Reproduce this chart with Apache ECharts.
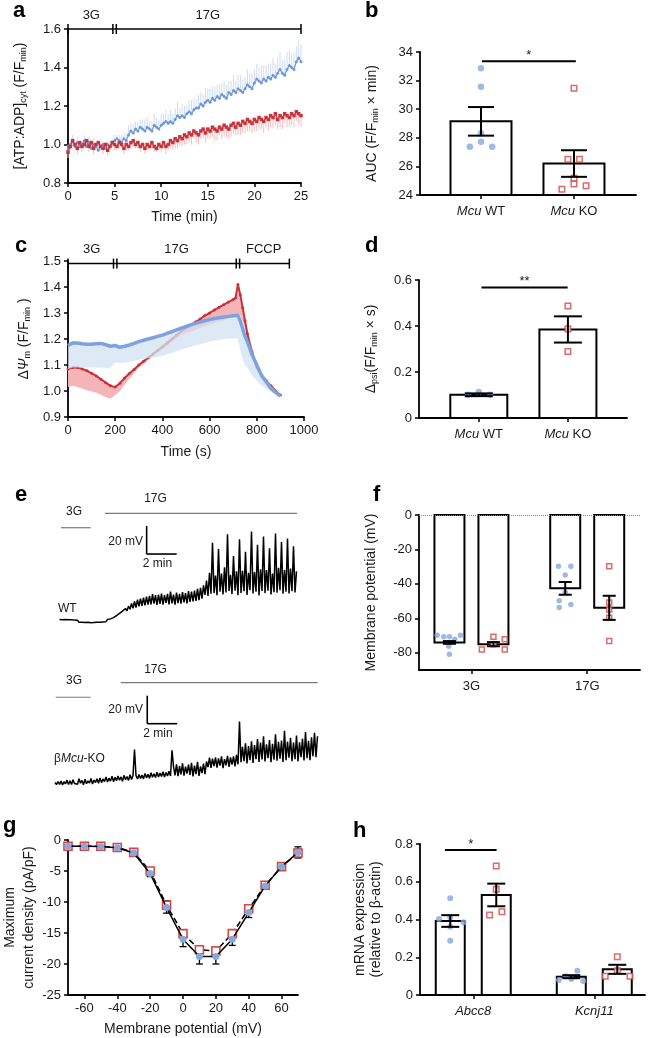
<!DOCTYPE html>
<html><head><meta charset="utf-8">
<script src="https://cdn.jsdelivr.net/npm/echarts@6/dist/echarts.min.js"></script>
<style>html,body{margin:0;padding:0;background:#fff}#c{width:649px;height:1038px}</style>
</head><body><div id="c"></div>
<script>
// ================= DATA =================
// ---- panel a : [ATP:ADP]cyt time course, sampled every 0.25 min ----
const aStart = 0, aStep = 0.25;
const aWT = [0.97,1.00,1.02,0.99,1.01,0.99,1.00,1.02,0.99,1.01,
 0.98,1.00,0.99,0.97,0.99,1.00,0.98,1.00,0.99,1.01,
 1.02,1.03,1.02,1.01,1.03,1.02,1.05,1.07,1.06,1.08,
 1.07,1.09,1.08,1.07,1.09,1.08,1.07,1.10,1.09,1.08,
 1.10,1.11,1.12,1.11,1.12,1.11,1.13,1.15,1.14,1.15,
 1.14,1.16,1.17,1.16,1.18,1.19,1.19,1.21,1.20,1.22,
 1.23,1.22,1.24,1.23,1.25,1.24,1.26,1.25,1.24,1.27,
 1.26,1.28,1.27,1.29,1.28,1.27,1.29,1.31,1.30,1.29,
 1.32,1.34,1.33,1.32,1.34,1.33,1.35,1.34,1.36,1.35,
 1.37,1.39,1.37,1.36,1.39,1.41,1.40,1.39,1.43,1.45,1.43];
const aWTsem = [.03,.02,.03,.02,.03,.02,.02,.03,.02,.03,
 .02,.03,.02,.03,.02,.02,.03,.02,.03,.02,
 .03,.02,.03,.04,.03,.04,.05,.04,.05,.04,
 .05,.04,.05,.06,.05,.04,.05,.06,.05,.05,
 .06,.05,.06,.05,.06,.05,.06,.07,.05,.06,
 .06,.05,.06,.07,.06,.05,.07,.06,.06,.07,
 .06,.07,.06,.07,.06,.07,.06,.08,.07,.06,
 .07,.08,.06,.07,.08,.07,.06,.08,.07,.08,
 .07,.08,.07,.09,.07,.08,.07,.08,.09,.07,
 .08,.09,.07,.08,.09,.08,.07,.09,.08,.09,.09];
const aKO = [0.96,0.99,1.02,1.00,0.98,1.01,0.99,1.00,1.02,0.99,
 1.01,0.98,1.00,1.01,0.99,0.98,1.00,0.97,0.99,1.01,
 1.00,0.99,1.01,1.00,0.98,1.00,0.99,1.01,1.02,1.00,
 1.01,0.99,1.00,0.98,1.00,0.99,1.01,0.99,0.98,1.00,
 0.99,1.01,0.99,1.00,1.02,1.01,1.03,1.02,1.04,1.03,
 1.05,1.04,1.06,1.05,1.07,1.06,1.05,1.07,1.08,1.06,
 1.08,1.07,1.09,1.08,1.07,1.09,1.08,1.10,1.09,1.08,
 1.10,1.11,1.09,1.11,1.10,1.12,1.11,1.13,1.12,1.11,
 1.13,1.12,1.14,1.13,1.12,1.14,1.13,1.15,1.14,1.16,
 1.13,1.15,1.14,1.16,1.15,1.14,1.16,1.15,1.17,1.16,1.15];
const aKOsem = [.03,.02,.03,.02,.03,.02,.03,.02,.02,.03,
 .02,.03,.02,.03,.02,.03,.02,.03,.02,.02,
 .03,.02,.03,.02,.03,.03,.02,.03,.03,.02,
 .03,.03,.02,.03,.03,.02,.03,.03,.02,.03,
 .03,.03,.04,.03,.04,.04,.05,.04,.05,.04,
 .05,.04,.05,.05,.04,.05,.05,.04,.05,.05,
 .05,.04,.05,.06,.05,.04,.05,.06,.05,.05,
 .06,.05,.04,.06,.05,.06,.05,.06,.05,.05,
 .06,.05,.06,.05,.06,.05,.06,.06,.05,.06,
 .05,.06,.06,.05,.06,.05,.06,.06,.05,.06,.06];
const aStimStart = [0, 5], aStimEnd = [5, 25], aStimLabel = ['3G', '17G'];

// ---- panel b : AUC ----
const bCats = ['Mcu WT', 'Mcu KO'];
const bMean = [29.15, 26.2];
const bSem = [1.0, 0.93];
const bWT = [32.86, 31.57, 28.31, 27.73, 27.38, 27.38];
const bWTjit = [0, 0, 0, 0, -0.12, 0.12];
const bKO = [31.46, 26.5, 26.5, 25.17, 24.77, 24.65, 24.4];
const bKOjit = [0, -0.065, 0.06, 0, 0, 0.13, -0.13];
const bSig = [0.01, 1.02, 33.35];

// ---- panel c : delta psi_m ----
const cTime = [0,20,40,60,80,100,120,140,160,180,200,220,240,260,280,300,320,340,360,380,400,420,440,460,480,500,520,540,560,580,600,620,640,660,680,700,710,720,730,740,750,760,780,800,820,840,860,880,900];
const cKO = [1.085,1.09,1.09,1.085,1.078,1.068,1.058,1.045,1.032,1.02,1.015,1.03,1.05,1.067,1.083,1.10,1.114,1.128,1.142,1.156,1.17,1.185,1.20,1.215,1.23,1.243,1.254,1.265,1.277,1.29,1.30,1.312,1.322,1.332,1.342,1.352,1.358,1.41,1.37,1.32,1.27,1.22,1.15,1.09,1.06,1.04,1.02,1.0,0.985];
const cKOsem = [.07,.07,.075,.075,.075,.07,.065,.06,.055,.05,.03,.03,.025,.02,.015,.01,.01,.008,.008,.008,.008,.01,.01,.012,.015,.02,.025,.03,.035,.04,.045,.05,.055,.06,.065,.07,.07,.12,.08,.05,.03,.02,.015,.01,.01,.01,.008,.006,.005];
const cWT = [1.175,1.185,1.185,1.182,1.18,1.18,1.182,1.183,1.178,1.172,1.175,1.168,1.172,1.177,1.183,1.19,1.195,1.20,1.205,1.21,1.215,1.222,1.228,1.235,1.242,1.248,1.254,1.26,1.265,1.27,1.275,1.279,1.282,1.285,1.287,1.289,1.29,1.29,1.27,1.24,1.21,1.19,1.14,1.10,1.06,1.035,1.01,0.995,0.98];
const cWTsem = [.09,.095,.095,.092,.09,.09,.092,.093,.09,.085,.065,.06,.062,.065,.068,.07,.072,.074,.076,.078,.08,.08,.082,.082,.083,.083,.084,.084,.085,.085,.085,.085,.086,.086,.086,.087,.087,.09,.11,.12,.11,.10,.08,.06,.04,.025,.015,.008,.005];
const cStimStart = [0, 200, 720], cStimEnd = [200, 720, 938], cStimLabel = ['3G', '17G', 'FCCP'];

// ---- panel d ----
const dCats = ['Mcu WT', 'Mcu KO'];
const dMean = [0.101, 0.385];
const dSem = [0.006, 0.057];
const dWT = [0.101, 0.113, 0.101];
const dWTjit = [-0.12, 0, 0.127];
const dKO = [0.487, 0.387, 0.289];
const dKOjit = [0, 0, 0];
const dSig = [0.03, 0.997, 0.567];

// ---- panel e : membrane potential traces (mV), sampled every 0.1 min ----
const eStep = 0.1;
const eWTstart = 0.3;
const eWT = [-75.3,-76.7,-75.5,-76.9,-75.4,-76.8,-75.6,-77.0,-75.5,-76.9,
 -75.8,-77.2,-75.9,-77.4,-76.0,-77.3,-76.1,-77.5,-76.2,-77.4,
 -76.3,-77.6,-76.2,-77.5,-76.1,-77.4,-76.2,-77.3,-76.0,-77.1,
 -75.8,-76.9,-75.4,-76.5,-74.9,-75.8,-74.0,-74.9,-72.6,-73.8,
 -71.0,-72.2,-69.4,-70.8,-67.5,-69.2,-65.8,-68.0,-63.9,-67.4,
 -62.5,-66.8,-61.2,-66.0,-60.5,-65.6,-59.8,-65.2,-59.0,-64.8,
 -58.5,-64.5,-57.2,-64.0,-58.0,-65.0,-57.5,-64.2,-56.8,-64.8,
 -57.9,-63.5,-57.0,-64.5,-55.5,-63.9,-57.6,-64.8,-56.2,-63.6,
 -57.0,-64.0,-55.8,-63.2,-56.5,-63.8,-55.0,-62.8,-55.5,-62.5,
 -54.8,-62.0,-53.5,-61.5,-52.8,-60.5,-51.0,-57.8,-47.5,-58.5,
 -42.0,-57.0,-20.5,-56.5,-44.0,-58.0,-25.0,-55.5,-42.5,-57.5,
 -38.0,-56.0,-14.5,-55.0,-43.5,-57.2,-30.0,-54.8,-41.0,-58.0,
 -18.0,-56.5,-40.5,-55.2,-27.0,-57.8,-42.0,-54.5,-12.5,-56.8,
 -41.5,-55.5,-22.0,-58.2,-39.5,-55.0,-16.0,-56.5,-40.0,-54.8,
 -24.5,-57.5,-42.5,-55.8,-14.0,-56.2,-38.5,-54.5,-20.0,-57.0,
 -40.0,-55.5,-17.5,-56.8,-39.0,-55.2,-23.0,-56.0,-41.0];
const eKOstart = 0;
const eKO = [-77.5,-79.0,-76.8,-78.8,-76.5,-79.2,-77.0,-78.5,-75.8,-78.9,
 -76.2,-79.0,-75.5,-78.2,-76.8,-78.7,-74.8,-78.0,-76.0,-79.1,
 -75.2,-78.4,-76.4,-77.9,-74.6,-78.6,-75.8,-77.5,-74.9,-78.1,
 -74.2,-77.6,-75.0,-76.8,-73.5,-77.2,-74.4,-76.5,-73.0,-76.9,
 -73.8,-76.2,-72.8,-75.9,-73.5,-76.6,-72.4,-75.5,-73.2,-76.0,
 -72.0,-75.3,-72.6,-54.0,-72.5,-75.0,-71.8,-74.6,-72.2,-74.9,
 -71.0,-74.2,-71.6,-74.5,-70.5,-73.8,-71.2,-74.0,-70.2,-73.5,
 -70.8,-73.2,-69.8,-73.6,-70.4,-72.8,-69.5,-72.9,-54.5,-66.0,
 -72.5,-64.5,-73.0,-65.8,-71.8,-63.9,-72.6,-66.2,-71.2,-64.8,
 -72.0,-63.5,-73.2,-65.5,-71.5,-62.8,-72.8,-66.0,-70.8,-64.0,
 -71.5,-62.5,-66.5,-59.8,-67.0,-60.5,-65.8,-59.5,-66.8,-60.2,
 -65.5,-58.8,-67.2,-60.8,-65.2,-58.5,-66.4,-59.6,-64.8,-58.9,
 -66.0,-57.8,-64.5,-34.0,-63.0,-52.0,-62.2,-49.5,-63.8,-51.5,
 -61.5,-48.0,-63.5,-50.8,-60.8,-46.5,-62.8,-49.0,-61.0,-44.5,
 -62.5,-50.2,-60.2,-47.2,-63.0,-49.8,-61.2,-43.0,-62.0,-48.5,
 -60.5,-47.5,-62.8,-40.5,-61.5,-48.2,-59.8,-45.5,-62.2,-49.0,
 -60.8,-44.0,-62.5,-48.8,-59.5,-46.2,-61.8,-41.5,-60.2,-47.8,
 -61.5,-45.2,-58.8,-42.0,-59.5,-44.5];
// stimulus lines [start min, end min, level mV] and scale bars [x min, y mV, 2 min, 20 mV]
const eWTStim = [[0.4, 2.38, -9.8], [3.33, 16.13, 0.5]];
const eKOStim = [[0.05, 2.38, -16.6], [4.38, 17.51, -6.2]];
const eWTScale = [[6.11, -28.6, 2, 20]];
const eKOScale = [[6.15, -35.5, 2, 20]];

// ---- panel f ----
const fCats = ['3G', '17G'];
const fMeanWT = [-74.0, -42.6], fSemWT = [0.8, 3.7];
const fMeanKO = [-75.0, -53.9], fSemKO = [1.2, 7.0];
const fWT3 = [-69.8,-70.7,-70.7,-72.1,-69.8,-76.2,-80.8], fWT3jit = [-0.106,-0.049,0,0.046,0.095,-0.006,0];
const fKO3 = [-78.1,-70.7,-75.0,-72.1,-78.1], fKO3jit = [-0.1,0,0,0.098,0.098];
const fWT17 = [-29.7,-29.7,-34.9,-44.9,-49.8,-51.9,-53.7], fWT17jit = [-0.058,0.049,0,0,-0.052,0.049,-0.052];
const fKO17 = [-29.7,-50.8,-54.8,-59.7,-73.1], fKO17jit = [0,0,0,0,0];

// ---- panel g : I-V ----
const gV = [-70,-60,-50,-40,-30,-20,-10,0,10,20,30,40,50,60,70];
const gWT = [-1.0,-1.0,-1.05,-1.25,-2.1,-5.4,-10.9,-16.0,-18.8,-18.8,-16.0,-11.7,-7.4,-4.3,-2.0];
const gWTsem = [0.1,0.1,0.1,0.15,0.3,0.5,0.9,1.2,1.2,1.2,1.0,0.8,0.5,0.3,0.9];
const gKO = [-1.0,-1.0,-1.0,-1.2,-2.0,-5.0,-10.5,-15.1,-17.7,-17.9,-15.1,-11.1,-7.3,-4.3,-2.1];
const gKOsem = [0.1,0.1,0.1,0.15,0.3,0.4,0.7,0.6,0.5,0.6,0.6,0.5,0.4,0.3,0.6];
const gXTicks = [-60,-40,-20,0,20,40,60];

// ---- panel h ----
const hCats = ['Abcc8', 'Kcnj11'];
const hMeanWT = [0.392, 0.097], hSemWT = [0.031, 0.008];
const hMeanKO = [0.53, 0.136], hSemKO = [0.06, 0.024];
const hWT1 = [0.512,0.403,0.41,0.385,0.362,0.288], hWT1jit = [0,-0.093,0,0.109,0,0];
const hKO1 = [0.683,0.56,0.424,0.441], hKO1jit = [0,0,-0.055,0.047];
const hWT2 = [0.079,0.1,0.085,0.129,0.074], hWT2jit = [-0.102,-0.046,0,0.05,0.099];
const hKO2 = [0.203,0.129,0.1,0.1], hKO2jit = [0,0,-0.1,0.105];
const hSig = [-0.234, 0.193, 0.768];

// ================= STYLE / HELPERS =================
const FONT = '"Liberation Sans", Arial, Helvetica, sans-serif';
const TXT = '#1a1a1a';
const BLUE = '#84A9E0', RED = '#D64545';
const GROUP_OFF = 0.19;

function merge(a, b) {
  const o = Object.assign({}, a);
  for (const k in b) {
    const bv = b[k];
    if (bv && typeof bv === 'object' && !Array.isArray(bv) && typeof bv !== 'function' && a[k] && typeof a[k] === 'object' && !Array.isArray(a[k])) o[k] = merge(a[k], bv);
    else o[k] = bv;
  }
  return o;
}
const SUB = {fontSize: 9, lineHeight: 6, verticalAlign: 'bottom', fontFamily: FONT, color: TXT};
const ITAL = {fontStyle: 'italic', fontFamily: FONT, color: TXT, fontSize: 13};
function vAxis(o) {
  return merge({
    type: 'value', splitLine: {show: false},
    axisLine: {show: true, onZero: false, lineStyle: {color: '#000', width: 1.8}},
    axisTick: {show: true, length: 4, lineStyle: {color: '#000', width: 1.5}},
    axisLabel: {color: TXT, fontSize: 13, fontFamily: FONT, margin: 7, formatter: v => String(v)},
    nameLocation: 'middle',
    nameTextStyle: {color: TXT, fontSize: 14, fontFamily: FONT, lineHeight: 16, rich: {s: SUB, i: {fontStyle: 'italic', fontSize: 14, fontFamily: FONT, color: TXT}}}
  }, o);
}
function catAxis(idx, min, max, cats, italicAll) {
  return vAxis({gridIndex: idx, min, max,
    axisTick: {customValues: [0, 1]},
    axisLabel: {customValues: [0, 1], margin: 10, fontStyle: italicAll ? 'italic' : 'normal',
      formatter: v => { const s = cats[Math.round(v)]; return italicAll ? s : s.replace('Mcu', '{i|Mcu}'); },
      rich: {i: ITAL}}});
}
function hideAxis(idx, min, max) { return {type: 'value', gridIndex: idx, min, max, show: false}; }

// --- custom renderers ---
function vsegRender(color, lw) { // [x, y1, y2]
  return (p, api) => {
    const a = api.coord([api.value(0), api.value(1)]), b = api.coord([api.value(0), api.value(2)]);
    return {type: 'line', shape: {x1: a[0], y1: a[1], x2: b[0], y2: b[1]}, style: {stroke: color, lineWidth: lw}};
  };
}
function hsegRender(color, lw) { // [x1, x2, y]
  return (p, api) => {
    const a = api.coord([api.value(0), api.value(2)]), b = api.coord([api.value(1), api.value(2)]);
    return {type: 'line', shape: {x1: a[0], y1: a[1], x2: b[0], y2: b[1]}, style: {stroke: color, lineWidth: lw}};
  };
}
function errRender(capW, lw) { // [x, mean, sem]
  return (p, api) => {
    const x = api.value(0), m = api.value(1), s = api.value(2);
    const hi = api.coord([x, m + s]), lo = api.coord([x, m - s]);
    const st = {stroke: '#000', lineWidth: lw};
    return {type: 'group', children: [
      {type: 'line', shape: {x1: hi[0], y1: hi[1], x2: lo[0], y2: lo[1]}, style: st},
      {type: 'line', shape: {x1: hi[0] - capW / 2, y1: hi[1], x2: hi[0] + capW / 2, y2: hi[1]}, style: st},
      {type: 'line', shape: {x1: lo[0] - capW / 2, y1: lo[1], x2: lo[0] + capW / 2, y2: lo[1]}, style: st}]};
  };
}
function barRender(w, base) { // [x, value]
  return (p, api) => {
    const x = api.value(0), v = api.value(1);
    const t = api.coord([x, v]), b = api.coord([x, base]);
    return {type: 'rect', shape: {x: t[0] - w / 2, y: Math.min(t[1], b[1]), width: w, height: Math.abs(b[1] - t[1])},
      style: {fill: '#fff', stroke: '#000', lineWidth: 2}};
  };
}
function txt(x, y, text, size, align, vAlign, extra) {
  return Object.assign({x, y, text, fill: TXT, fontSize: size, fontFamily: FONT, align, textAlign: align, verticalAlign: vAlign, textVerticalAlign: vAlign}, extra || {});
}
function sigRender(label) { // [x1, x2, y]
  return (p, api) => {
    const a = api.coord([api.value(0), api.value(2)]), b = api.coord([api.value(1), api.value(2)]);
    return {type: 'group', children: [
      {type: 'line', shape: {x1: a[0], y1: a[1], x2: b[0], y2: b[1]}, style: {stroke: '#000', lineWidth: 2}},
      {type: 'text', style: txt((a[0] + b[0]) / 2, a[1] - 6, label, 13, 'center', 'middle')}]};
  };
}
function stimRender(labels, n) { // [start, end, y]
  return (p, api) => {
    const i = p.dataIndex;
    const a = api.coord([api.value(0), api.value(2)]), b = api.coord([api.value(1), api.value(2)]);
    const st = {stroke: '#000', lineWidth: 1.5};
    const xa = a[0] + (i > 0 ? 1.7 : 0), xb = b[0] - (i < n - 1 ? 1.7 : 0);
    return {type: 'group', children: [
      {type: 'line', shape: {x1: a[0], y1: a[1], x2: b[0], y2: b[1]}, style: st},
      {type: 'line', shape: {x1: xa, y1: a[1] - 5, x2: xa, y2: a[1] + 5}, style: st},
      {type: 'line', shape: {x1: xb, y1: b[1] - 5, x2: xb, y2: b[1] + 5}, style: st},
      {type: 'text', style: txt((a[0] + b[0]) / 2, a[1] - 14, labels[i], 13, 'center', 'middle')}]};
  };
}
function bandRender(xs, top, bot, color, opacity) {
  return (p, api) => {
    const pts = [];
    for (let i = 0; i < xs.length; i++) pts.push(api.coord([xs[i], top[i]]));
    for (let i = xs.length - 1; i >= 0; i--) pts.push(api.coord([xs[i], bot[i]]));
    return {type: 'polygon', shape: {points: pts}, style: {fill: color, opacity}};
  };
}
function scaleRender() { // [x0, y0, dx, dy]
  return (p, api) => {
    const x0 = api.value(0), y0 = api.value(1), dx = api.value(2), dy = api.value(3);
    const c = api.coord([x0, y0]), t = api.coord([x0, y0 + dy]), r = api.coord([x0 + dx, y0]);
    const st = {stroke: '#000', lineWidth: 1.6};
    return {type: 'group', children: [
      {type: 'line', shape: {x1: c[0], y1: c[1], x2: t[0], y2: t[1]}, style: st},
      {type: 'line', shape: {x1: c[0], y1: c[1], x2: r[0], y2: r[1]}, style: st}]};
  };
}
function cust(gi, render, data, z, extra) {
  return Object.assign({type: 'custom', xAxisIndex: gi, yAxisIndex: gi, renderItem: render, data, clip: false, silent: true, z: z || 2}, extra || {});
}
function dots(gi, pts, isKO, size) {
  return {type: 'scatter', xAxisIndex: gi, yAxisIndex: gi, data: pts, silent: true, z: 3,
    symbol: isKO ? 'rect' : 'circle', symbolSize: isKO ? size - 1 : size,
    itemStyle: isKO ? {color: '#fff', borderColor: RED, borderWidth: 1.5} : {color: BLUE}};
}
const jitter = (center, vals, jit) => vals.map((v, i) => [center + jit[i], v]);

// ================= DERIVED SERIES DATA =================
const aT = aWT.map((v, i) => aStart + i * aStep);
const eWTt = eWT.map((v, i) => [eWTstart + i * eStep, v]);
const eKOt = eKO.map((v, i) => [eKOstart + i * eStep, v]);
const cKOlow = cKO.map((v, i) => v - cKOsem[i]);
const cWTlow = cWT.map((v, i) => v - cWTsem[i]);

const series = [
  // ---- a ----
  cust(0, vsegRender('#F6BCC0', 1), aT.map((t, i) => [t, aKO[i], aKO[i] - aKOsem[i]]), 1),
  cust(0, vsegRender('#CFDDF1', 1), aT.map((t, i) => [t, aWT[i], aWT[i] + aWTsem[i]]), 1),
  {type: 'line', xAxisIndex: 0, yAxisIndex: 0, data: aT.map((t, i) => [t, aWT[i]]), symbol: 'circle', symbolSize: 3,
    itemStyle: {color: '#6F97D6'}, lineStyle: {color: '#6F97D6', width: 1.2}, silent: true, z: 2},
  {type: 'line', xAxisIndex: 0, yAxisIndex: 0, data: aT.map((t, i) => [t, aKO[i]]), symbol: 'rect', symbolSize: 3.5,
    itemStyle: {color: '#C9343C'}, lineStyle: {color: '#C9343C', width: 1.2}, silent: true, z: 2},
  cust(0, stimRender(aStimLabel, aStimStart.length), aStimStart.map((s, i) => [s, aStimEnd[i], 1.6]), 4),

  // ---- b ----
  cust(1, barRender(61, 24), bMean.map((m, i) => [i, m]), 1),
  dots(1, jitter(0, bWT, bWTjit), false, 6.5),
  dots(1, jitter(1, bKO, bKOjit), true, 6.5),
  cust(1, errRender(26, 2), bMean.map((m, i) => [i, m, bSem[i]]), 4),
  cust(1, sigRender('*'), [bSig], 4),

  // ---- c ----
  cust(2, bandRender(cTime, cKO, cKOlow, '#F5B4B8', 1), [[0, 1.0]], 1),
  {type: 'line', xAxisIndex: 2, yAxisIndex: 2, data: cTime.map((t, i) => [t, cKO[i]]), symbol: 'circle', symbolSize: 3,
    itemStyle: {color: '#C8323A'}, lineStyle: {color: '#C8323A', width: 2}, silent: true, z: 2},
  cust(2, bandRender(cTime, cWT, cWTlow, '#D3E2F3', 0.75), [[0, 1.0]], 3),
  {type: 'line', xAxisIndex: 2, yAxisIndex: 2, data: cTime.map((t, i) => [t, cWT[i]]), showSymbol: false, symbol: 'none',
    lineStyle: {color: '#7DA3DF', width: 3.5}, silent: true, z: 4},
  cust(2, stimRender(cStimLabel, cStimStart.length), cStimStart.map((s, i) => [s, cStimEnd[i], 1.49]), 5),

  // ---- d ----
  cust(3, barRender(57, 0), dMean.map((m, i) => [i, m]), 1),
  dots(3, jitter(0, dWT, dWTjit), false, 6.5),
  dots(3, jitter(1, dKO, dKOjit), true, 6.5),
  cust(3, errRender(28, 2), dMean.map((m, i) => [i, m, dSem[i]]), 4),
  cust(3, sigRender('**'), [dSig], 4),

  // ---- e ----
  {type: 'line', xAxisIndex: 4, yAxisIndex: 4, data: eWTt, symbol: 'none', showSymbol: false, lineStyle: {color: '#000', width: 1.5}, silent: true},
  {type: 'line', xAxisIndex: 5, yAxisIndex: 5, data: eKOt, symbol: 'none', showSymbol: false, lineStyle: {color: '#000', width: 1.5}, silent: true},
  cust(4, hsegRender('#7a7a7a', 1.2), eWTStim, 2),
  cust(5, hsegRender('#7a7a7a', 1.2), eKOStim, 2),
  cust(4, scaleRender(), eWTScale, 2),
  cust(5, scaleRender(), eKOScale, 2),

  // ---- f ----
  cust(6, barRender(30, 0), [[-GROUP_OFF, fMeanWT[0]], [GROUP_OFF, fMeanKO[0]], [1 - GROUP_OFF, fMeanWT[1]], [1 + GROUP_OFF, fMeanKO[1]]], 1),
  Object.assign(dots(6, jitter(-GROUP_OFF, fWT3, fWT3jit).concat(jitter(1 - GROUP_OFF, fWT17, fWT17jit)), false, 5.5), {
    markLine: {silent: true, symbol: ['none', 'none'], label: {show: false}, animation: false,
      lineStyle: {type: 'dotted', color: '#888', width: 1}, data: [{yAxis: 0}]}}),
  dots(6, jitter(GROUP_OFF, fKO3, fKO3jit).concat(jitter(1 + GROUP_OFF, fKO17, fKO17jit)), true, 6),
  cust(6, errRender(13, 2), [[-GROUP_OFF, fMeanWT[0], fSemWT[0]], [GROUP_OFF, fMeanKO[0], fSemKO[0]], [1 - GROUP_OFF, fMeanWT[1], fSemWT[1]], [1 + GROUP_OFF, fMeanKO[1], fSemKO[1]]], 4),

  // ---- g ----
  cust(7, errRender(7, 1.3), gV.map((v, i) => [v, gKO[i], gKOsem[i]]), 1),
  cust(7, errRender(7, 1.3), gV.map((v, i) => [v, gWT[i], gWTsem[i]]), 1),
  {type: 'line', xAxisIndex: 7, yAxisIndex: 7, data: gV.map((v, i) => [v, gKO[i]]), symbol: 'rect', symbolSize: 8,
    itemStyle: {color: '#fff', borderColor: RED, borderWidth: 1.6}, lineStyle: {color: '#000', width: 1.5, type: 'dashed'}, silent: true, z: 2},
  {type: 'line', xAxisIndex: 7, yAxisIndex: 7, data: gV.map((v, i) => [v, gWT[i]]), symbol: 'circle', symbolSize: 7,
    itemStyle: {color: BLUE}, lineStyle: {color: '#000', width: 1.5}, silent: true, z: 3},

  // ---- h ----
  cust(8, barRender(29, 0), [[-GROUP_OFF, hMeanWT[0]], [GROUP_OFF, hMeanKO[0]], [1 - GROUP_OFF, hMeanWT[1]], [1 + GROUP_OFF, hMeanKO[1]]], 1),
  dots(8, jitter(-GROUP_OFF, hWT1, hWT1jit).concat(jitter(1 - GROUP_OFF, hWT2, hWT2jit)), false, 6),
  dots(8, jitter(GROUP_OFF, hKO1, hKO1jit).concat(jitter(1 + GROUP_OFF, hKO2, hKO2jit)), true, 6.5),
  cust(8, errRender(18, 2), [[-GROUP_OFF, hMeanWT[0], hSemWT[0]], [GROUP_OFF, hMeanKO[0], hSemKO[0]], [1 - GROUP_OFF, hMeanWT[1], hSemWT[1]], [1 + GROUP_OFF, hMeanKO[1], hSemKO[1]]], 4),
  cust(8, sigRender('*'), [hSig], 4)
];

// ================= TEXT (panel letters, trace annotations) =================
function gText(x, y, text, size, align, extra) {
  return {type: 'text', x, y, silent: true, style: Object.assign({text, fill: TXT, fontSize: size, fontFamily: FONT, textAlign: align, align, textVerticalAlign: 'middle', verticalAlign: 'middle'}, extra || {})};
}
const B = {fontWeight: 'bold', fill: '#000'};
const graphics = [
  gText(13, 11, 'a', 22, 'left', B), gText(365, 11, 'b', 22, 'left', B),
  gText(15, 246, 'c', 22, 'left', B), gText(365, 246, 'd', 22, 'left', B),
  gText(15, 495, 'e', 22, 'left', B), gText(373, 495, 'f', 22, 'left', B),
  gText(3, 826, 'g', 22, 'left', B), gText(353, 831, 'h', 22, 'left', B),
  gText(74, 512, '3G', 12, 'center'), gText(155.5, 499, '17G', 12, 'center'),
  gText(143, 541.5, '20 mV', 12, 'right'), gText(157.5, 563.5, '2 min', 12, 'center'),
  gText(58, 609, 'WT', 12, 'left'),
  gText(74, 681, '3G', 12, 'center'), gText(155.5, 670, '17G', 12, 'center'),
  gText(143, 709.5, '20 mV', 12, 'right'), gText(158, 733.5, '2 min', 12, 'center'),
  gText(54, 759, 'β{i|Mcu}-KO', 12, 'left', {rich: {i: {fontStyle: 'italic', fontSize: 12, fontFamily: FONT, fill: TXT}}})
];

const gridBase = {containLabel: false, outerBoundsMode: 'none'};
const option = {
  animation: false,
  backgroundColor: '#fff',
  grid: [
    Object.assign({left: 68, top: 29, width: 233, height: 154}, gridBase),
    Object.assign({left: 420, top: 52, width: 216, height: 143}, gridBase),
    Object.assign({left: 68, top: 261, width: 236, height: 156}, gridBase),
    Object.assign({left: 419, top: 280, width: 208, height: 138}, gridBase),
    Object.assign({left: 55, top: 500, width: 270, height: 140}, gridBase),
    Object.assign({left: 55, top: 660, width: 270, height: 140}, gridBase),
    Object.assign({left: 419, top: 515, width: 221, height: 155}, gridBase),
    Object.assign({left: 68, top: 840, width: 230, height: 155}, gridBase),
    Object.assign({left: 420, top: 844, width: 225, height: 151}, gridBase)
  ],
  xAxis: [
    vAxis({gridIndex: 0, min: 0, max: 25, interval: 5, name: 'Time (min)', nameGap: 26}),
    catAxis(1, -0.656, 1.667, bCats, false),
    vAxis({gridIndex: 2, min: 0, max: 1000, interval: 200, name: 'Time (s)', nameGap: 27}),
    catAxis(3, -0.671, 1.663, dCats, false),
    hideAxis(4, 0, 18),
    hideAxis(5, 0, 18),
    catAxis(6, -0.453, 1.456, fCats, false),
    vAxis({gridIndex: 7, min: -70, max: 70, axisTick: {customValues: gXTicks}, axisLabel: {customValues: gXTicks},
      name: 'Membrane potential (mV)', nameGap: 26}),
    catAxis(8, -0.44, 1.419, hCats, true)
  ],
  yAxis: [
    vAxis({gridIndex: 0, min: 0.8, max: 1.6, interval: 0.2, axisLabel: {formatter: v => v.toFixed(1)},
      name: '[ATP:ADP]{s|cyt} (F/F{s|min})', nameGap: 40}),
    vAxis({gridIndex: 1, min: 24, max: 34, interval: 2, name: 'AUC (F/F{s|min} × min)', nameGap: 40}),
    vAxis({gridIndex: 2, min: 0.9, max: 1.5, interval: 0.1, axisLabel: {formatter: v => v.toFixed(1)},
      name: 'Δ{i|Ψ}{s|m} (F/F{s|min} )', nameGap: 36}),
    vAxis({gridIndex: 3, min: 0, max: 0.6, interval: 0.2, name: 'Δ{s|psi}(F/F{s|min} × s)', nameGap: 40}),
    hideAxis(4, -90, 10),
    hideAxis(5, -90, 10),
    vAxis({gridIndex: 6, min: -90, max: 0, axisTick: {customValues: [0, -20, -40, -60, -80]},
      axisLabel: {customValues: [0, -20, -40, -60, -80]}, name: 'Membrane potential (mV)', nameGap: 40}),
    vAxis({gridIndex: 7, min: -25, max: 0, interval: 5, name: 'Maximum\ncurrent density (pA/pF)', nameGap: 29,
      nameTextStyle: {lineHeight: 19}}),
    vAxis({gridIndex: 8, min: 0, max: 0.8, interval: 0.2, name: 'mRNA expression\n(relative to β-actin)', nameGap: 36,
      nameTextStyle: {lineHeight: 16}})
  ],
  graphic: {elements: graphics},
  series
};
const chart = echarts.init(document.getElementById('c'), null, {renderer: 'canvas'});
chart.setOption(option);
</script></body></html>
